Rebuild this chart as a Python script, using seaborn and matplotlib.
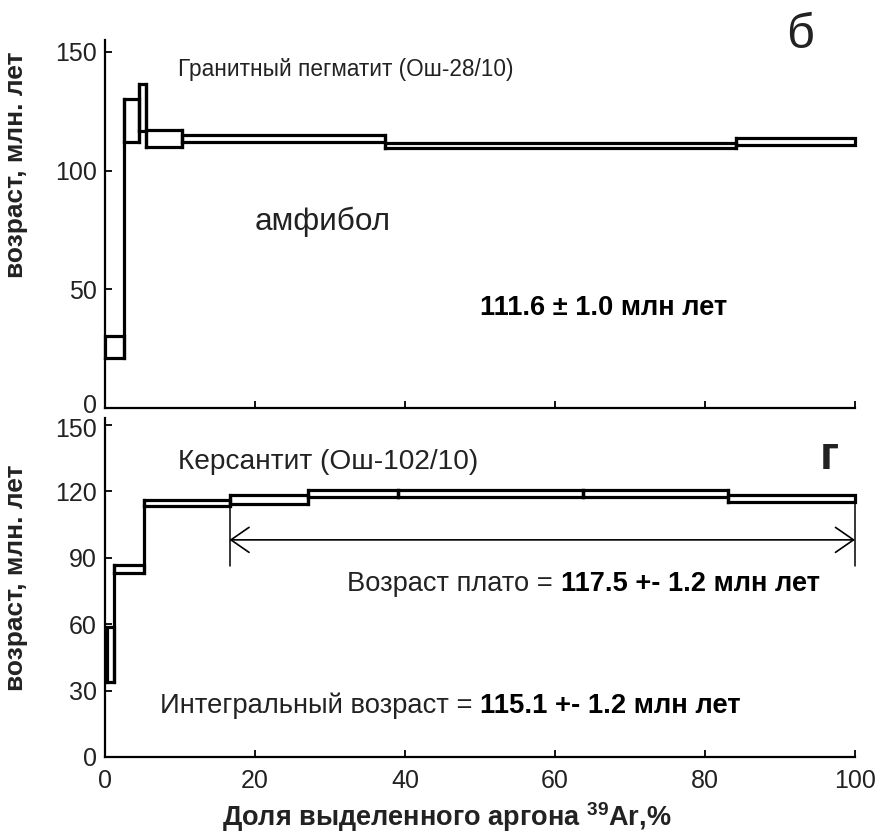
import numpy as np
import pandas as pd
import matplotlib
matplotlib.use("Agg")
import matplotlib.pyplot as plt
import matplotlib.transforms as mtransforms
import seaborn as sns

# ---------------- data ----------------
# Top panel (б): amphibole, granite pegmatite
top_edges = [0.0, 2.5, 4.5, 5.5, 10.3, 37.3, 84.1, 100.0]
top_low = [21.0, 112.0, 116.5, 110.0, 112.1, 109.6, 110.8]
top_high = [30.5, 130.0, 136.5, 117.0, 114.8, 111.7, 113.6]

# Bottom panel (г): kersantite
bot_edges = [0.2, 1.2, 5.2, 16.6, 27.0, 39.0, 63.7, 83.1, 100.0]
bot_low = [34.0, 83.0, 113.2, 114.1, 117.3, 117.3, 117.3, 115.1]
bot_high = [58.5, 86.5, 116.0, 118.2, 120.4, 120.4, 120.4, 118.4]

plateau_range = [16.6, 100.0]
plateau_arrow_y = 98.0
plateau_bar_bottom = 86.0

x_ticks = [0, 20, 40, 60, 80, 100]
top_yticks = [0, 50, 100, 150]
bot_yticks = [0, 30, 60, 90, 120, 150]

title_top = "Гранитный пегматит (Ош-28/10)"
mineral_top = "амфибол"
age_top = "111.6 ± 1.0 млн лет"
title_bot = "Керсантит (Ош-102/10)"
plateau_txt = ("Возраст плато = ", "117.5 +- 1.2 млн лет")
integral_txt = ("Интегральный возраст = ", "115.1 +- 1.2 млн лет")
ylabel = "возраст, млн. лет"
xlabel = r"Доля выделенного аргона $^{\mathbf{39}}$Ar,%"

# ---------------- style ----------------
sns.set_style("ticks")
plt.rcParams["font.family"] = ["Liberation Sans", "DejaVu Sans"]
plt.rcParams["mathtext.fontset"] = "custom"
plt.rcParams["mathtext.rm"] = "Liberation Sans"
plt.rcParams["mathtext.bf"] = "Liberation Sans:bold"
TXT = "#222222"

W, H = 892, 836
fig = plt.figure(figsize=(W / 100, H / 100), dpi=100)
ax1 = fig.add_axes([105 / W, 1 - 408 / H, 750 / W, 368 / H])
ax2 = fig.add_axes([105 / W, 1 - 757 / H, 750 / W, 339 / H])


def outline_df(edges, lo, hi):
    rows = []
    uid = 0
    # each step box
    for i in range(len(lo)):
        x0, x1 = edges[i], edges[i + 1]
        for x, y in [(x0, lo[i]), (x1, lo[i]), (x1, hi[i]), (x0, hi[i]), (x0, lo[i])]:
            rows.append({"seg": uid, "x": x, "y": y})
        uid += 1
    # connecting verticals between neighbouring steps
    for i in range(len(lo) - 1):
        xb = edges[i + 1]
        ymin = min(lo[i], lo[i + 1])
        ymax = max(hi[i], hi[i + 1])
        rows.append({"seg": uid, "x": xb, "y": ymin})
        rows.append({"seg": uid, "x": xb, "y": ymax})
        uid += 1
    return pd.DataFrame(rows)


for ax, edges, lo, hi in [(ax1, top_edges, top_low, top_high),
                          (ax2, bot_edges, bot_low, bot_high)]:
    df = outline_df(edges, lo, hi)
    sns.lineplot(data=df, x="x", y="y", units="seg", estimator=None, sort=False,
                 color="black", lw=2.3, ax=ax, legend=False,
                 solid_joinstyle="miter", solid_capstyle="projecting")
    for ln in ax.lines:
        ln.set_clip_on(False)

ax1.set_xlim(0, 100)
ax1.set_ylim(0, 155)
ax2.set_xlim(0, 100)
ax2.set_ylim(0, 153)

for ax, yt in [(ax1, top_yticks), (ax2, bot_yticks)]:
    ax.set_xticks(x_ticks)
    ax.set_yticks(yt)
    for s in ["top", "right"]:
        ax.spines[s].set_visible(False)
    for s in ["left", "bottom"]:
        ax.spines[s].set_linewidth(1.6)
        ax.spines[s].set_color("black")
    ax.tick_params(direction="in", length=5, width=1.3, labelsize=18,
                   pad=6, labelcolor=TXT, color="black")
    ax.set_xlabel("")
    ax.set_ylabel("")

ax1.tick_params(axis="x", labelbottom=False)
ax2.tick_params(axis="x", pad=9)

# nudge the two crowded tick labels apart (top "0", bottom "150")
lab0 = ax1.get_yticklabels()[0]
lab0.set_transform(lab0.get_transform() +
                   mtransforms.ScaledTranslation(0, 3 / 72, fig.dpi_scale_trans))
lab150 = ax2.get_yticklabels()[-1]
lab150.set_transform(lab150.get_transform() +
                     mtransforms.ScaledTranslation(0, -2 / 72, fig.dpi_scale_trans))

# y labels
ax1.set_ylabel(ylabel, fontsize=19, fontweight="bold", color=TXT)
ax1.yaxis.set_label_coords(-0.103, 0.66)
ax2.set_ylabel(ylabel, fontsize=19, fontweight="bold", color=TXT)
ax2.yaxis.set_label_coords(-0.103, 0.528)

fig.text(447 / W, 1 - 817 / H, xlabel, fontsize=19.5, fontweight="bold",
         color=TXT, ha="center", va="center")

# top panel texts
ax1.text(9.7, 142.4, title_top, fontsize=16.3, color=TXT, va="center", ha="left")
ax1.text(20.0, 78.4, mineral_top, fontsize=22.7, color=TXT, va="center", ha="left")
ax1.text(50.0, 42.0, age_top, fontsize=19.6, fontweight="bold", color="black",
         va="center", ha="left")
fig.text(786 / W, 1 - 36 / H, "б", fontsize=35, color=TXT, va="center", ha="left")

# bottom panel texts
ax2.text(9.7, 133.3, title_bot, fontsize=20.2, color=TXT, va="center", ha="left")
ax2.text(95.3, 135.6, "г", fontsize=33, fontweight="bold", color=TXT,
         va="center", ha="left")


def mixed(ax, x, y, parts, size):
    t1 = ax.text(x, y, parts[0], fontsize=size, color=TXT, va="baseline", ha="left")
    ax.annotate(parts[1], xy=(1, y), xycoords=(t1, "data"),
                xytext=(0, 0), textcoords="offset points",
                fontsize=size, fontweight="bold", color="black",
                va="baseline", ha="left")


mixed(ax2, 32.3, 75.0, plateau_txt, 19.6)
mixed(ax2, 7.3, 19.9, integral_txt, 19.7)

# plateau arrow and bars
for xb in plateau_range:
    ax2.plot([xb, xb], [plateau_bar_bottom, 114.5], color="black", lw=1.1,
             clip_on=False)
ax2.annotate("", xy=(plateau_range[0], plateau_arrow_y),
             xytext=(plateau_range[1], plateau_arrow_y),
             arrowprops=dict(arrowstyle="<->,head_length=0.65,head_width=0.45",
                             lw=1.2, color="black", shrinkA=0, shrinkB=0,
                             mutation_scale=20))

fig.savefig("out.png", dpi=100)
